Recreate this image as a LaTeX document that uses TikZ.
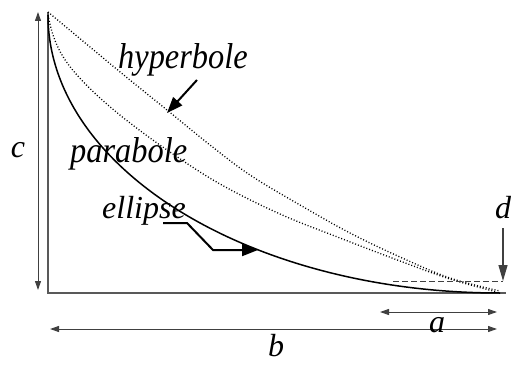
\documentclass[tikz,border=0pt]{standalone}
\usepackage{fontspec}
\setmainfont{Liberation Serif}
\usetikzlibrary{arrows.meta,positioning}

\begin{document}
\begin{tikzpicture}[
    x=1pt, y=1pt,
    axisline/.style={line width=1.8pt, black!65},
    dimline/.style={line width=1pt, black!75},
    tipboth/.style={{Triangle[length=9pt,width=6pt]}-{Triangle[length=9pt,width=6pt]}},
    pointer/.style={line width=2pt, black, -{Triangle[length=16pt,width=12pt]}},
    solidcurve/.style={line width=1.5pt, black},
    dotcurve/.style={line width=1.3pt, black, dash pattern=on 1pt off 2pt},
    curvelbl/.style={font=\fontsize{36}{38}\selectfont\itshape, inner sep=0pt, anchor=base west},
    dimlbl/.style={font=\fontsize{32}{34}\selectfont\itshape, inner sep=0pt}
]
\useasboundingbox (0,0) rectangle (511,365);

% axes
\coordinate (top) at (48,353);
\coordinate (origin) at (48,72);
\coordinate (right) at (506,72);
\draw[axisline] (top) -- (origin) -- (right);

% curves
\draw[solidcurve] (48,350) arc[start angle=180, end angle=270, x radius=452, y radius=278];
\draw[dotcurve] plot[smooth, tension=0.6] coordinates {(48,350) (53,330) (62,310) (77,290) (100,267) (130,242) (170,213) (220,181) (280,151) (340,127) (400,104) (450,86) (497,73)};
\draw[dotcurve] plot[smooth, tension=0.6] coordinates {(48,353) (60,343) (90,318) (125,289) (167,255) (210,220) (250,190) (300,160) (350,132) (400,108) (450,87) (500,74)};

% labels of the curves
\node[curvelbl] (hyp) at (118,297) {\scalebox{0.9}[1]{hyperbole}};
\node[curvelbl] (par) at (70,203) {\scalebox{0.9}[1]{parabole}};
\node[curvelbl, font=\fontsize{32}{34}\selectfont\itshape] (ell) at (102,147) {ellipse};

\coordinate (hyptip) at (167,252);
\coordinate (hypstart) at (197,285);
\draw[pointer] (hypstart) -- (hyptip);

\coordinate (ellstart) at (163,142);
\coordinate (elltip) at (258,115);
\draw[pointer] (ellstart) -- (187,142) -- (213,115) -- (elltip);

% dimension c
\coordinate (ctop) at (38,353);
\coordinate (cbot) at (38,75);
\draw[dimline, tipboth] (cbot) -- (ctop);
\node[dimlbl] (c) at (18,215) {c};

% dimension b
\coordinate (bleft) at (50,36);
\coordinate (bright) at (497,36);
\draw[dimline, tipboth] (bleft) -- (bright);
\node[dimlbl] (b) at (276,19) {b};

% dimension a
\coordinate (aleft) at (380,53);
\coordinate (aright) at (497,53);
\draw[dimline, tipboth] (aleft) -- (aright);
\node[dimlbl] (a) at (437,40) {a};

% dimension d
\coordinate (dtop) at (503,137);
\coordinate (dbot) at (503,84);
\coordinate (dleft) at (393,84);
\draw[dimline, dash pattern=on 6pt off 3pt] (dleft) -- (dbot);
\draw[dimline, line width=1.3pt, -{Triangle[length=16pt,width=9pt]}] (dtop) -- (dbot);
\node[dimlbl] (d) at (503,157) {d};
\end{tikzpicture}
\end{document}
